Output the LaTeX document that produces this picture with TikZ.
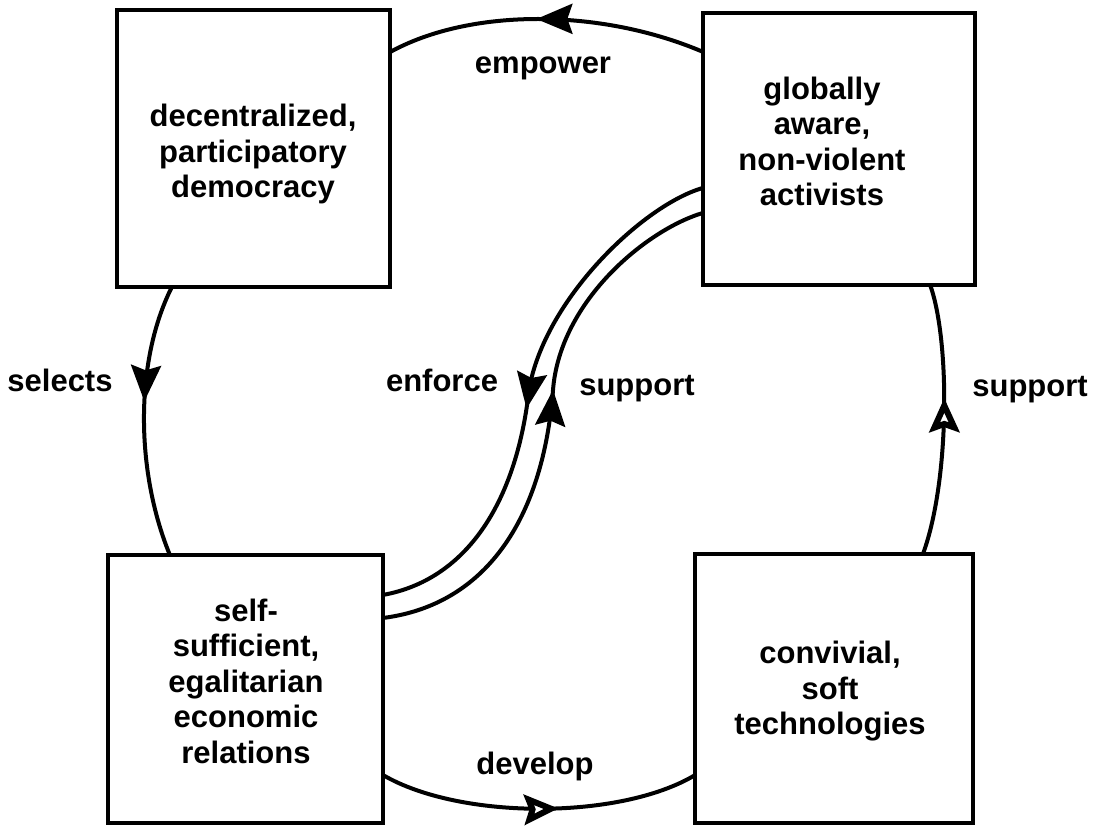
\documentclass[tikz,border=0pt]{standalone}
\usepackage{fontspec}
\setmainfont{Liberation Sans}
\usetikzlibrary{arrows.meta,decorations.markings,calc}
\begin{document}
\begin{tikzpicture}[x=1pt,y=-1pt,
  box/.style={draw, line width=4.5pt, inner sep=0pt, outer sep=0pt},
  txt/.style={font=\fontsize{31}{35.5}\selectfont\bfseries, align=center, inner sep=0pt},
  lbl/.style={font=\fontsize{31}{35.5}\selectfont\bfseries, inner sep=0pt, anchor=base},
  conn/.style={line width=4pt},
  midarrow/.style={postaction={decorate}, decoration={markings, mark=at position #1 with {\arrow{Stealth[length=36pt,width=30pt,inset=5pt]}}}},
  midopen/.style={postaction={decorate}, decoration={markings, mark=at position #1 with {\arrow{Stealth[open,fill=white,length=34pt,width=30pt,inset=5pt,line width=6pt]}}}},
]
\fill[white] (0,0) rectangle (1097,834);
\useasboundingbox (0,0) rectangle (1097,834);

% boxes
\node[box, minimum width=273pt, minimum height=277pt] (tl) at (253.5,148.5) {};
\node[box, minimum width=272pt, minimum height=272pt] (tr) at (839,149) {};
\node[box, minimum width=275pt, minimum height=268pt] (bl) at (245.5,689) {};
\node[box, minimum width=278pt, minimum height=269pt] (br) at (834,688.5) {};

% box texts
\node[txt] (tlt) at (253,154) {decentralized,\\participatory\\democracy};
\node[txt] (trt) at (822,141.5) {globally\\aware,\\non-violent\\activists};
\node[txt] (blt) at (246,681) {self-\\sufficient,\\egalitarian\\economic\\relations};
\node[txt] (brt) at (830,691.5) {convivial,\\soft\\technologies};

% junction points of the double link
\coordinate (jo) at (529,390);
\coordinate (ji) at (553,390);

% empower
\draw[conn, midarrow=0.53] ($(tr.north west)!0.143!(tr.south west)$) .. controls (600,8) and (470,8) .. ($(tl.north east)!0.152!(tl.south east)$);
% selects
\draw[conn, midarrow=0.43] ($(tl.south west)!0.201!(tl.south east)$) .. controls (135,360) and (135,470) .. ($(bl.north west)!0.225!(bl.north east)$);
% develop
\draw[conn, midopen=0.56] ($(bl.north east)!0.821!(bl.south east)$) .. controls (460,820) and (620,820) .. ($(br.north west)!0.822!(br.south west)$);
% support (right)
\draw[conn, midopen=0.58] ($(br.north west)!0.82!(br.north east)$) .. controls (950,480) and (950,340) .. ($(tr.south west)!0.835!(tr.south east)$);
% enforce (outer)
\draw[conn, midarrow=0.54] ($(tr.north west)!0.643!(tr.south west)$) .. controls (643,205) and (544,300) .. (jo) .. controls (516,505) and (465,580) .. ($(bl.north east)!0.149!(bl.south east)$);
% support (inner)
\draw[conn, midarrow=0.56] ($(bl.north east)!0.235!(bl.south east)$) .. controls (485,605) and (543,520) .. (ji) .. controls (560,300) and (648,229) .. ($(tr.north west)!0.735!(tr.south west)$);

% labels
\node[lbl] (lemp) at (543,74) {empower};
\node[lbl] (lsel) at (60,391) {selects};
\node[lbl] (lenf) at (442,391) {enforce};
\node[lbl] (lsup1) at (637,395) {support};
\node[lbl] (lsup2) at (1030,396) {support};
\node[lbl] (ldev) at (535,774) {develop};
\end{tikzpicture}
\end{document}
